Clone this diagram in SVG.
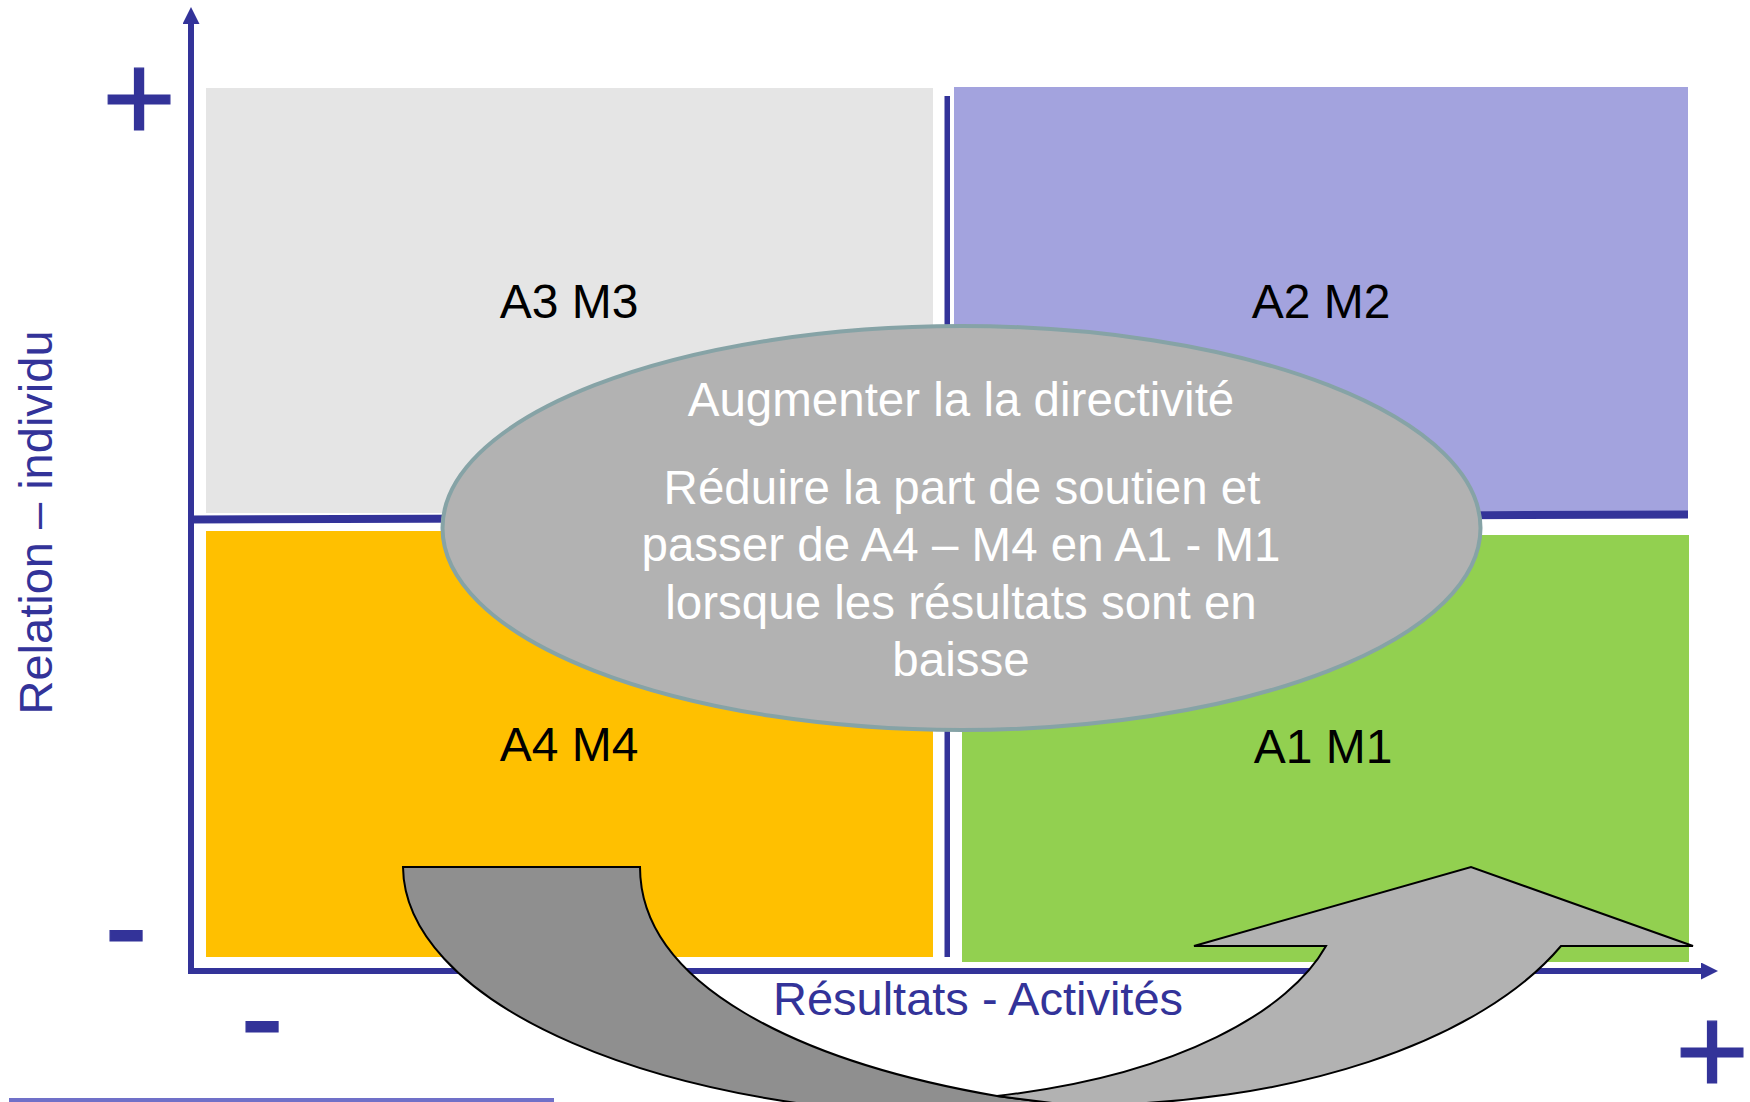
<svg xmlns="http://www.w3.org/2000/svg" width="1750" height="1102" viewBox="0 0 1750 1102">
  <defs>
    <style>
      .axis { stroke: #333399; stroke-width: 6; fill: none; }
      .divider { fill: #333399; }
      .quad-label { font-family: "Liberation Sans", Arial, sans-serif; font-size: 48px; fill: #000000; text-anchor: middle; }
      .axis-label { font-family: "Liberation Sans", Arial, sans-serif; font-size: 47px; fill: #333399; text-anchor: middle; }
      .sign { font-family: "Liberation Sans", Arial, sans-serif; fill: #333399; stroke: #333399; stroke-width: 1.2; text-anchor: middle; }
      .bubble-text { font-family: "Liberation Sans", Arial, sans-serif; font-size: 47.5px; fill: #ffffff; text-anchor: middle; }
      .ribbon { stroke: #000000; stroke-width: 2; stroke-linejoin: miter; }
    </style>
    <marker id="axis-head" markerUnits="userSpaceOnUse" markerWidth="18" markerHeight="18" refX="0" refY="8.5" orient="auto">
      <path d="M0,0 L17,8.5 L0,17 Z" fill="#333399"/>
    </marker>
  </defs>

  <rect width="1750" height="1102" fill="#ffffff"/>

  <!-- quadrants -->
  <g id="quadrant-a3m3">
    <rect x="206" y="88" width="727" height="425" fill="#e5e5e5"/>
    <text class="quad-label" x="569" y="318">A3 M3</text>
  </g>
  <g id="quadrant-a2m2">
    <rect x="954" y="87" width="734" height="424" fill="#a3a3de"/>
    <text class="quad-label" x="1321" y="318">A2 M2</text>
  </g>
  <g id="quadrant-a4m4">
    <rect x="206" y="531" width="727" height="426" fill="#ffc000"/>
    <text class="quad-label" x="569" y="761">A4 M4</text>
  </g>
  <g id="quadrant-a1m1">
    <rect x="962" y="535" width="727" height="427" fill="#92d050"/>
    <text class="quad-label" x="1323" y="763">A1 M1</text>
  </g>

  <!-- axes and dividers -->
  <g id="connectors">
    <rect class="divider" x="944.5" y="96" width="5.5" height="861"/>
    <line class="axis" x1="188" y1="519.5" x2="1688" y2="514.5" style="stroke-width:8"/>
    <line class="axis" x1="191" y1="974" x2="191" y2="24" marker-end="url(#axis-head)"/>
    <line class="axis" x1="188" y1="971" x2="1701" y2="971" marker-end="url(#axis-head)"/>
  </g>

  <!-- axis labels and signs -->
  <g id="axis-labels">
    <text class="axis-label" transform="translate(51.5,522.5) rotate(-90)" x="0" y="0">Relation – individu</text>
    <text class="axis-label" x="978" y="1015">Résultats - Activités</text>
    <text class="sign" x="139" y="141" font-size="127">+</text>
    <text class="sign" x="1712" y="1094" font-size="127">+</text>
    <text class="sign" x="126" y="971" font-size="131">-</text>
    <text class="sign" x="262" y="1062" font-size="131">-</text>
  </g>

  <!-- central bubble -->
  <g id="bubble">
    <ellipse cx="961.5" cy="528" rx="519" ry="202" fill="#b2b2b2" stroke="#86a3a6" stroke-width="4"/>
    <text class="bubble-text" x="961" y="416">Augmenter la la directivité</text>
    <text class="bubble-text" x="962" y="504">Réduire la part de soutien et</text>
    <text class="bubble-text" x="961" y="561">passer de A4 – M4 en A1 - M1</text>
    <text class="bubble-text" x="961" y="618.5">lorsque les résultats sont en</text>
    <text class="bubble-text" x="961" y="676">baisse</text>
  </g>

  <!-- curved up arrow from A4 to A1 -->
  <g id="curved-arrow">
    <path class="ribbon" fill="#8f8f8f" d="M403,867 L640,867 C640,985 800,1062 997,1096 L1060,1104 L980,1116 A577,250 0 0 1 403,867 Z"/>
    <path class="ribbon" fill="#b2b2b2" d="M1194,946 L1471,867 L1693,946 L1561,946 A520,260 0 0 1 1080,1105 L1060,1104 L997,1096 C1180,1075 1290,1010 1326,946 Z"/>
  </g>

  <!-- footer rule -->
  <rect id="footer-rule" x="9" y="1098" width="545" height="4" fill="#7070c8"/>
</svg>
